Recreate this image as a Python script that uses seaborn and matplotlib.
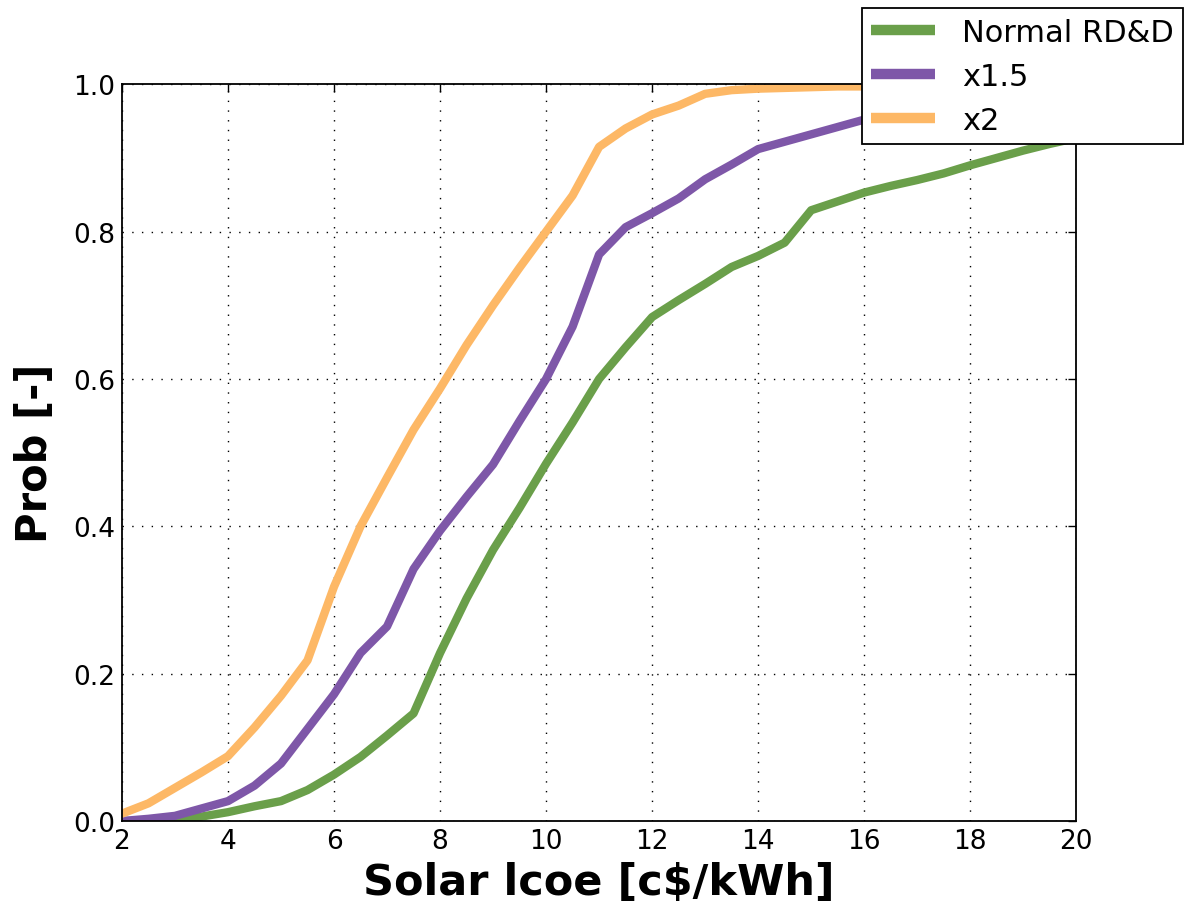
import numpy as np
import pandas as pd
import matplotlib
matplotlib.use("Agg")
import matplotlib.pyplot as plt
import seaborn as sns

x_vals = [2, 2.5, 3, 3.5, 4, 4.5, 5, 5.5, 6, 6.5, 7, 7.5, 8, 8.5, 9, 9.5, 10,
          10.5, 11, 11.5, 12, 12.5, 13, 13.5, 14, 14.5, 15, 15.5, 16, 16.5,
          17, 17.5, 18, 18.5, 19, 19.5, 20]

normal = [0.0, 0.0, 0.0, 0.006, 0.012, 0.02, 0.027, 0.042, 0.063, 0.087, 0.116,
          0.146, 0.228, 0.302, 0.368, 0.425, 0.485, 0.541, 0.600, 0.643, 0.684,
          0.707, 0.729, 0.752, 0.767, 0.785, 0.829, 0.841, 0.853, 0.862, 0.870,
          0.879, 0.890, 0.900, 0.910, 0.919, 0.927]

x15 = [0.0, 0.003, 0.007, 0.017, 0.027, 0.048, 0.078, 0.125, 0.172, 0.228, 0.264,
       0.342, 0.394, 0.440, 0.484, 0.543, 0.600, 0.671, 0.769, 0.806, 0.825,
       0.845, 0.871, 0.891, 0.912, 0.922, 0.932, 0.942, 0.952, 0.958, 0.963,
       0.967, 0.971, 0.975, 0.978, 0.981, 0.984]

x2 = [0.01, 0.024, 0.045, 0.066, 0.088, 0.127, 0.170, 0.218, 0.318, 0.400, 0.466,
      0.531, 0.587, 0.646, 0.700, 0.751, 0.800, 0.849, 0.915, 0.940, 0.959,
      0.971, 0.987, 0.992, 0.994, 0.995, 0.996, 0.997, 0.997, 0.998, 0.998,
      0.998, 0.999, 0.999, 0.999, 0.999, 1.0]

labels = ["Normal RD&D", "x1.5", "x2"]
colors = ["#6a9f4a", "#7e57a8", "#fdb866"]

df = pd.concat([
    pd.DataFrame({"lcoe": x_vals, "prob": vals, "case": lab})
    for lab, vals in zip(labels, [normal, x15, x2])
], ignore_index=True)

sns.set_theme(style="white")
plt.rcParams["font.family"] = ["DejaVu Sans"]
plt.rcParams["text.color"] = "black"
plt.rcParams["axes.labelcolor"] = "black"

fig = plt.figure(figsize=(11.84, 9.04), dpi=100)
ax = fig.add_axes([0.103, 0.0907, 0.806, 0.815])

sns.lineplot(data=df, x="lcoe", y="prob", hue="case", hue_order=labels,
             palette=colors, linewidth=6, ax=ax, sort=False)

ax.set_xlim(2, 20)
ax.set_ylim(0, 1.0)
ax.set_xticks(np.arange(2, 21, 2))
ax.set_yticks(np.arange(0, 1.01, 0.2))
ax.set_yticklabels([f"{v:.1f}" for v in np.arange(0, 1.01, 0.2)])
ax.grid(True, color="black", linestyle=(0, (1, 6)), linewidth=1.0)
ax.tick_params(axis="both", which="both", direction="in", top=True, right=True,
               length=6, width=1, labelsize=19, colors="black", pad=5)
for s in ax.spines.values():
    s.set_color("black")
    s.set_linewidth(1.3)

ax.set_xlabel("Solar lcoe [c$/kWh]", fontsize=31, fontweight="bold",
              labelpad=5, color="black")
ax.set_ylabel("Prob [-]", fontsize=30, fontweight="bold", labelpad=12,
              color="black")

leg = ax.legend(loc="upper right", bbox_to_anchor=(1.112, 1.103),
                borderaxespad=0, fontsize=22, frameon=True, fancybox=False,
                handlelength=2.1, handletextpad=0.88, labelspacing=0.5,
                borderpad=0.3)
leg.get_frame().set_edgecolor("black")
leg.get_frame().set_linewidth(1.3)
leg.get_frame().set_alpha(1.0)
for h in leg.get_lines():
    h.set_linewidth(7.5)
    h.set_solid_capstyle("butt")
for t in leg.get_texts():
    t.set_color("black")

fig.savefig("out.png", dpi=100, facecolor="white")
